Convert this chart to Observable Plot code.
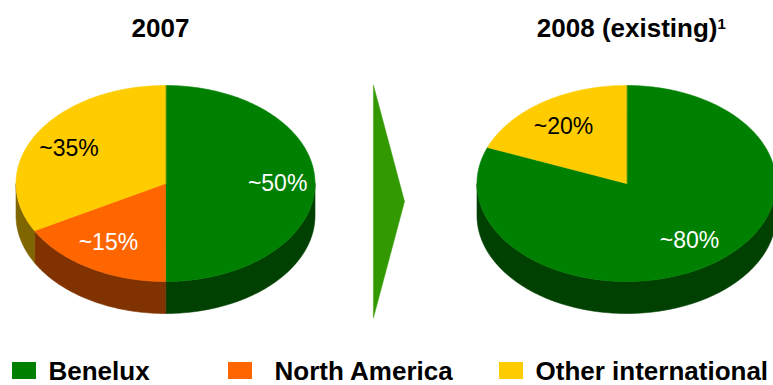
<!DOCTYPE html>
<html><head><meta charset="utf-8">
<script src="https://cdn.jsdelivr.net/npm/d3@7"></script>
<script src="https://cdn.jsdelivr.net/npm/@observablehq/plot@0.6"></script>
<style>
  html,body{margin:0;padding:0;background:#fff;}
  svg{display:block;}
</style>
</head><body><div id="chart"></div>
<script>
// ---- data ----
const categories = ["Benelux", "North America", "Other international"];
const years = ["2007", "2008 (existing)"];
const shares2007 = [50, 17, 33];
const shares2008 = [81, 0, 19];
const labels2007 = ["~50%", "~15%", "~35%"];
const labels2008 = ["~80%", "", "~20%"];
const footnoteMark = "1";

// ---- styles ----
const topColors = ["#008000", "#FF6600", "#FFCC00"];
const sideColors = ["#004000", "#803300", "#806600"];
const labelColors = ["#ffffff", "#ffffff", "#000000"];
const arrowColor = "#339900";
const FONT = "'Liberation Sans', Arial, Helvetica, sans-serif";

// ---- layout ----
const W = 773, H = 385;
const CY = 183, RX = 149.5, RY = 98, DEPTH = 32;
const pieCenters = [165, 626];
const legendBoxX = [12, 228, 499];
const legendTextX = [48, 274, 535];
const legendBaseline = 379;

const pies = [
  {title: years[0], cx: pieCenters[0], shares: shares2007, labels: labels2007},
  {title: years[1], cx: pieCenters[1], shares: shares2008, labels: labels2008}
];

const pt = (cx, a, dy = 0) => ({x: cx + RX * Math.sin(a), y: CY - RY * Math.cos(a) + dy});
const arcPts = (cx, s, e, dy = 0) => {
  const n = Math.max(2, Math.ceil((e - s) / 0.02));
  return d3.range(n + 1).map(k => pt(cx, s + (e - s) * k / n, dy));
};

const marks = [];
const labelRows = [];

for (const p of pies) {
  const arcs = d3.pie().sort(null).value(d => d)(p.shares);
  // side walls (front half only)
  arcs.forEach((a, i) => {
    const s = Math.max(a.startAngle, Math.PI / 2);
    const e = Math.min(a.endAngle, 3 * Math.PI / 2);
    if (e <= s) return;
    const top = arcPts(p.cx, s, e);
    const bottom = arcPts(p.cx, s, e, DEPTH).reverse();
    marks.push(Plot.line([...top, ...bottom], {x: "x", y: "y", fill: sideColors[i], stroke: sideColors[i], strokeWidth: 0.6, curve: "linear-closed"}));
  });
  // top faces
  arcs.forEach((a, i) => {
    if (a.endAngle - a.startAngle <= 0) return;
    const poly = [{x: p.cx, y: CY}, ...arcPts(p.cx, a.startAngle, a.endAngle)];
    marks.push(Plot.line(poly, {x: "x", y: "y", fill: topColors[i], stroke: topColors[i], strokeWidth: 0.6, curve: "linear-closed"}));
    if (p.labels[i]) {
      const mid = (a.startAngle + a.endAngle) / 2;
      labelRows.push({x: p.cx + 0.75 * RX * Math.sin(mid), y: CY - 0.70 * RY * Math.cos(mid), text: p.labels[i], color: labelColors[i]});
    }
  });
}

// arrow between the pies
const arrowLeft = 373, arrowTip = 404;
const arrowPoly = [
  {x: arrowLeft, y: CY - RY},
  {x: arrowTip, y: (CY - RY + CY + RY + DEPTH + 4) / 2},
  {x: arrowLeft, y: CY + RY + DEPTH + 4}
];
marks.push(Plot.line(arrowPoly, {x: "x", y: "y", fill: arrowColor, stroke: arrowColor, strokeWidth: 0.5, curve: "linear-closed"}));

// pie labels
marks.push(Plot.text(labelRows, {x: "x", y: "y", text: "text", fill: "color", fontSize: 23, fontFamily: FONT, lineAnchor: "middle"}));

// titles
marks.push(Plot.text([pies[0]], {x: d => d.cx - 5, y: () => 36, text: "title", fontSize: 26, fontWeight: "bold", fontFamily: FONT, fill: "black", lineAnchor: "bottom"}));
marks.push(Plot.text([pies[1]], {x: d => d.cx + 91, y: () => 36, text: "title", textAnchor: "end", fontSize: 26, fontWeight: "bold", fontFamily: FONT, fill: "black", lineAnchor: "bottom"}));
marks.push(Plot.text([footnoteMark], {x: () => pies[1].cx + 91, y: () => 28.5, text: d => d, textAnchor: "start", fontSize: 15, fontWeight: "bold", fontFamily: FONT, fill: "black", lineAnchor: "bottom"}));

// legend
const legendRows = categories.map((c, i) => ({c, i}));
marks.push(Plot.rect(legendRows, {x1: d => legendBoxX[d.i], x2: d => legendBoxX[d.i] + 24, y1: () => legendBaseline - 17, y2: () => legendBaseline, fill: d => topColors[d.i]}));
marks.push(Plot.text(legendRows, {x: d => legendTextX[d.i], y: () => legendBaseline, text: "c", textAnchor: "start", fontSize: 26, fontWeight: "bold", fontFamily: FONT, fill: "black", lineAnchor: "bottom"}));

const chart = Plot.plot({
  width: W, height: H,
  margin: 0,
  style: {background: "#fff", fontFamily: FONT, overflow: "visible"},
  x: {type: "linear", domain: [0, W], range: [0, W], axis: null},
  y: {type: "linear", domain: [0, H], range: [0, H], axis: null},
  color: {type: "identity"},
  marks
});
document.getElementById("chart").appendChild(chart);
</script>
</body></html>
